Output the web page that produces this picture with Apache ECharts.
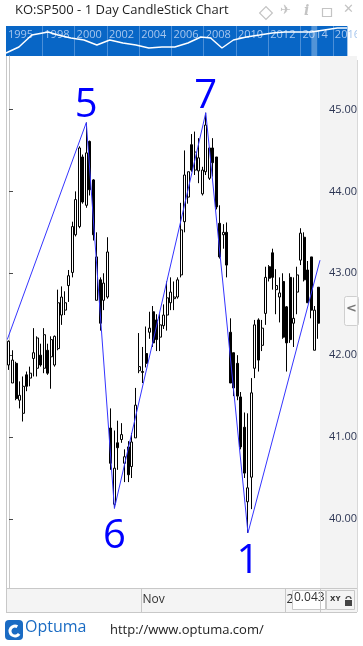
<!DOCTYPE html>
<html><head><meta charset="utf-8">
<script src="https://cdn.jsdelivr.net/npm/echarts@6/dist/echarts.min.js"></script>
<style>html,body{margin:0;padding:0;background:#fff;overflow:hidden}#c{width:363px;height:646px}</style>
</head><body><div id="c"></div>
<script>
// ---- data ----
const startDate = '2014-09-10';
const endDate = '2015-01-15';
const holidays = ['2014-11-27', '2014-12-25', '2015-01-01'];
const opens = [41.88,41.66,41.90,41.45,41.29,41.76,41.72,41.96,41.84,42.00,41.84,42.06,41.98,41.88,42.08,42.49,42.55,42.85,43.01,43.47,43.57,44.42,43.83,44.61,44.14,42.67,42.92,42.67,42.71,41.11,40.18,40.93,40.97,40.68,40.88,40.64,40.99,41.81,41.80,42.02,42.28,42.53,42.43,42.22,42.36,42.49,42.64,42.69,42.71,42.98,43.63,43.93,44.57,44.26,44.25,43.97,44.24,44.16,44.53,44.42,43.61,43.47,43.50,42.28,42.03,41.90,41.49,41.12,40.21,40.51,41.84,42.43,42.12,42.51,43.08,43.25,42.80,42.71,42.90,42.59,42.95,42.39,42.77,43.16,43.44,43.04,43.20,42.06,42.83];
const closes = [42.17,41.94,41.47,41.51,41.62,41.62,41.78,42.03,42.21,41.88,42.25,41.78,42.19,42.23,42.64,42.71,42.64,42.97,43.57,43.90,44.53,43.87,44.47,44.02,43.47,43.20,42.39,42.88,43.26,40.68,40.62,40.87,41.03,40.76,40.54,40.94,41.39,41.86,41.79,41.90,42.33,42.15,42.19,42.37,42.49,42.70,42.77,42.71,42.92,43.53,44.20,44.24,44.26,44.48,44.41,44.26,44.81,44.53,44.35,43.81,43.20,43.50,43.10,41.66,41.60,41.50,40.88,40.56,40.38,41.54,42.37,41.94,42.33,42.95,42.94,42.95,42.85,42.76,42.22,42.15,42.19,42.45,42.98,43.49,42.92,42.64,42.55,42.55,42.39];
const lows = [41.82,41.66,41.45,41.35,41.19,41.56,41.62,41.74,41.74,41.86,41.78,41.76,41.59,41.86,42.06,42.37,42.49,42.65,42.95,43.45,43.55,43.85,43.80,43.95,43.40,42.67,42.30,42.55,42.69,40.60,40.13,40.60,40.93,40.45,40.45,40.50,40.99,41.78,41.66,41.85,42.20,42.10,42.05,42.05,42.32,42.30,42.55,42.55,42.69,42.95,43.50,43.85,44.24,44.20,44.10,43.95,44.20,44.14,44.18,43.78,43.18,43.30,42.95,41.66,41.50,41.45,40.85,40.50,39.83,40.12,41.72,41.80,42.05,42.37,42.90,42.80,42.50,42.40,42.20,41.80,42.15,42.10,42.50,43.10,42.90,42.64,42.45,42.06,42.20];
const highs = [42.18,42.06,41.92,41.68,41.74,41.80,41.86,42.33,42.23,42.14,42.33,42.14,42.23,42.24,42.80,42.84,42.78,43.04,43.63,44.00,44.55,44.45,44.84,44.62,44.15,43.50,42.95,43.00,43.44,41.35,41.08,41.20,41.17,40.85,40.95,41.05,41.60,42.27,42.10,42.35,42.53,42.60,42.50,42.50,42.62,42.90,42.95,42.90,42.95,43.86,44.50,44.24,44.70,44.73,44.65,44.30,44.96,44.53,44.65,44.42,43.83,43.60,43.62,42.45,42.03,42.00,41.55,41.30,41.29,41.72,42.43,42.45,42.43,43.08,43.10,43.30,43.05,42.95,43.00,42.60,43.00,42.95,43.08,43.55,43.50,43.15,43.20,42.60,42.83];
// wave pivots (x in candle-index units, -0.5 / 88.5 are the plot edges)
const waveIdx = [-0.5, 22, 30, 56, 68, 88.5];
const waveVal = [42.19, 44.84, 40.13, 44.96, 39.83, 43.16];
const waveLabels = ['', '5', '6', '7', '1', ''];
const wavePos = ['', 'top', 'bottom', 'top', 'bottom', ''];
// axis
const yTicks = [40, 41, 42, 43, 44, 45];
const yMin = 39.157, yMax = 45.653;
const monthMarkDates = ['2014-11-03', '2015-01-02'];
const monthMarkText = ['Nov', '2015'];
// navigator (long history overview)
const navYears = [1995.75,1996.55,1997.35,1998.36,1998.97,1999.77,2000.58,2001.38,2002.18,2002.99,2003.8,2004.6,2005.41,2006.21,2007.02,2007.82,2008.43,2009.13,2009.84,2010.64,2011.45,2012.25,2013.05,2013.86,2014.67,2015.47,2016.28,2016.88];
const navValues = [3,9,21,24,21,18,16,11,16,13,11,8,9,9,13,19,18,8,16,19,21,23,24,24,24,26,28,28];
const navLabelYears = [1995.75,1998,2000,2002,2004,2006,2008,2010,2012,2014,2016];
const navLineYears = [1998,2000,2002,2004,2006,2008,2010,2012,2014,2016];
const navStart = 1995.75, navEnd = 2016.9;
const navViewStart = 2014.67, navViewEnd = 2015.03;

// ---- build categories (trading days) ----
function buildDays(s, e, hol) {
  const out = [];
  let d = new Date(s + 'T00:00:00Z');
  const end = new Date(e + 'T00:00:00Z');
  while (d <= end) {
    const iso = d.toISOString().slice(0, 10);
    const wd = d.getUTCDay();
    if (wd !== 0 && wd !== 6 && hol.indexOf(iso) < 0) out.push(iso);
    d = new Date(d.getTime() + 86400000);
  }
  return out;
}
const categories = buildDays(startDate, endDate, holidays);
const candleData = opens.map((o, i) => [o, closes[i], lows[i], highs[i]]);
const waveData = waveIdx.map((x, i) => ({
  value: [x, waveVal[i]],
  label: {
    show: !!waveLabels[i], position: wavePos[i] || 'top', formatter: waveLabels[i] || ' ',
    distance: wavePos[i] === 'bottom' ? 8 : -4
  }
}));
const navData = navYears.map((y, i) => [y, navValues[i]]);
const isMark = (i, v) => monthMarkDates.indexOf(v) >= 0;

const FONT = 'Open Sans';
const chart = echarts.init(document.getElementById('c'), null, { renderer: 'canvas' });
chart.setOption({
  animation: false,
  backgroundColor: '#ffffff',
  grid: [
    { left: 7.24, right: 43, top: 56, bottom: 58, show: true, backgroundColor: '#fff', borderWidth: 0 },
    { left: 6, right: 6, top: 26, height: 30, show: true, backgroundColor: '#0866c6', borderWidth: 0 }
  ],
  xAxis: [
    {
      type: 'category', gridIndex: 0, data: categories, boundaryGap: true,
      axisLine: { show: true, lineStyle: { color: '#c8c8c8', width: 1 } },
      axisTick: { show: true, interval: isMark, length: 24, lineStyle: { color: '#c8c8c8' } },
      axisLabel: {
        show: true, interval: isMark, align: 'left', margin: 6,
        formatter: v => monthMarkText[monthMarkDates.indexOf(v)] || '',
        color: '#333', fontSize: 12, fontFamily: FONT
      },
      splitLine: { show: false }
    },
    { type: 'value', gridIndex: 0, min: -0.5, max: 88.5, show: false },
    {
      type: 'value', gridIndex: 1, min: navStart, max: navEnd, position: 'top',
      axisLine: { show: false },
      axisTick: { show: false, customValues: navLineYears },
      splitLine: { show: true, lineStyle: { color: '#4b8fd8', width: 1 } },
      axisLabel: {
        show: true, inside: true, customValues: navLabelYears, align: 'left', verticalAlign: 'top',
        margin: 3, padding: [0, 0, 0, 2], formatter: v => String(Math.floor(v)),
        color: '#a6c6ee', fontSize: 11, fontFamily: FONT
      }
    }
  ],
  yAxis: [
    {
      type: 'value', gridIndex: 0, position: 'right', min: yMin, max: yMax,
      axisLine: { show: true, lineStyle: { color: '#c8c8c8' } },
      axisTick: { show: true, customValues: yTicks, length: 4, lineStyle: { color: '#4a4a4a' } },
      axisLabel: { show: true, customValues: yTicks, formatter: v => v.toFixed(2), margin: 9, color: '#2c3553', fontSize: 11, fontFamily: FONT },
      splitLine: { show: false }
    },
    { type: 'value', gridIndex: 1, min: 0, max: 30, show: false }
  ],
  series: [
    {
      type: 'candlestick', xAxisIndex: 0, yAxisIndex: 0, data: candleData, barWidth: 2.5,
      itemStyle: { color: '#ffffff', color0: '#000000', borderColor: '#000000', borderColor0: '#000000', borderWidth: 1 }
    },
    {
      type: 'line', xAxisIndex: 1, yAxisIndex: 0, data: waveData, z: 5,
      symbol: 'circle', symbolSize: 1, showSymbol: true, showAllSymbol: true,
      itemStyle: { color: 'rgba(0,0,255,0)' },
      lineStyle: { color: '#3535ff', width: 1 },
      label: { show: true, color: '#0000ff', fontSize: 40, fontFamily: FONT }
    },
    {
      type: 'line', xAxisIndex: 2, yAxisIndex: 1, data: navData, symbol: 'none',
      lineStyle: { color: '#ffffff', width: 1.5 },
      markArea: { silent: true, itemStyle: { color: 'rgba(255,255,255,0.3)' }, data: [[{ xAxis: navViewStart }, { xAxis: navViewEnd }]] }
    }
  ],
  graphic: [
    { type: 'rect', z: -10, shape: { x: 320, y: 56, width: 37, height: 556 }, style: { fill: '#f3f3f3' } },
    { type: 'rect', z: -10, shape: { x: 6, y: 588, width: 351, height: 24 }, style: { fill: '#f4f4f4' } },
    { type: 'line', z: 50, shape: { x1: 6.5, y1: 56, x2: 6.5, y2: 612 }, style: { stroke: '#c8c8c8', lineWidth: 1 } },
    { type: 'line', z: 50, shape: { x1: 357.5, y1: 56, x2: 357.5, y2: 612 }, style: { stroke: '#d8d8d8', lineWidth: 1 } },
    { type: 'line', z: 50, shape: { x1: 6, y1: 588.5, x2: 357, y2: 588.5 }, style: { stroke: '#c8c8c8', lineWidth: 1 } },
    { type: 'line', z: 50, shape: { x1: 6, y1: 612.5, x2: 357, y2: 612.5 }, style: { stroke: '#c8c8c8', lineWidth: 1 } },
    { type: 'line', z: 50, shape: { x1: 320.5, y1: 588, x2: 320.5, y2: 612 }, style: { stroke: '#c8c8c8', lineWidth: 1 } },
    { type: 'rect', zlevel: 2, shape: { x: 357, y: 20, width: 6, height: 40 }, style: { fill: '#fff' } },
    // title
    { type: 'text', left: 15, top: 4, style: { text: 'KO:SP500 - 1 Day CandleStick Chart', fill: '#1e1e1e', font: '13px "Open Sans"' } },
    // header icons
    { type: 'rect', z: 10, rotation: Math.PI / 4, originX: 266, originY: 13, shape: { x: 261.5, y: 8.5, width: 9, height: 9 }, style: { fill: 'none', stroke: '#c4c4c4', lineWidth: 1.2 } },
    { type: 'text', left: 280, top: 4, style: { text: '✈', fill: '#c4c4c4', font: '13px "DejaVu Sans"' } },
    { type: 'text', left: 304, top: 4, style: { text: 'i', fill: '#c4c4c4', font: 'italic bold 14px "DejaVu Serif"' } },
    { type: 'rect', shape: { x: 322.5, y: 8.5, width: 9, height: 8 }, style: { fill: 'none', stroke: '#c4c4c4', lineWidth: 1.2 } },
    { type: 'text', left: 343, top: 3, style: { text: '✕', fill: '#c4c4c4', font: 'bold 13px "DejaVu Sans"' } },
    // side scroll button
    { type: 'rect', z: 20, shape: { x: 344.5, y: 296.5, width: 14, height: 29, r: 2 }, style: { fill: '#fafafa', stroke: '#cfcfcf', lineWidth: 1 } },
    { type: 'text', z: 21, left: 346, top: 302, style: { text: '<', fill: '#777', font: 'bold 13px "DejaVu Sans"' } },
    // bottom-right controls
    { type: 'rect', z: 20, shape: { x: 292.5, y: 590.5, width: 33, height: 19 }, style: { fill: '#fff', stroke: '#c8c8c8', lineWidth: 1 } },
    { type: 'text', z: 21, left: 294, top: 592, style: { text: '0.043', fill: '#333', font: '12px "Open Sans"' } },
    { type: 'rect', z: 20, shape: { x: 326.5, y: 590.5, width: 28, height: 19 }, style: { fill: '#f4f4f4', stroke: '#c8c8c8', lineWidth: 1 } },
    { type: 'text', z: 21, left: 330, top: 596, style: { text: 'XY', fill: '#333', font: 'bold 7px "DejaVu Sans"' } },
    { type: 'rect', z: 21, shape: { x: 345, y: 600, width: 7, height: 6 }, style: { fill: '#444' } },
    { type: 'arc', z: 21, shape: { cx: 348.5, cy: 599, r: 2.5, startAngle: Math.PI, endAngle: 2 * Math.PI }, style: { fill: 'none', stroke: '#444', lineWidth: 1.2 } },
    // logo
    { type: 'rect', shape: { x: 5, y: 620, width: 18, height: 20, r: 4 }, style: { fill: '#1a6bc3' } },
    { type: 'arc', shape: { cx: 15, cy: 631, r: 5, startAngle: 0.6, endAngle: 5.2 }, style: { fill: 'none', stroke: '#fff', lineWidth: 3 } },
    { type: 'text', left: 25, top: 619, style: { text: 'Optuma', fill: '#1a6bc3', font: '16px "Open Sans"' } },
    { type: 'text', left: 110, top: 624, style: { text: 'http://www.optuma.com/', fill: '#222', font: '13px "Open Sans"' } }
  ]
});
</script>
</body></html>
